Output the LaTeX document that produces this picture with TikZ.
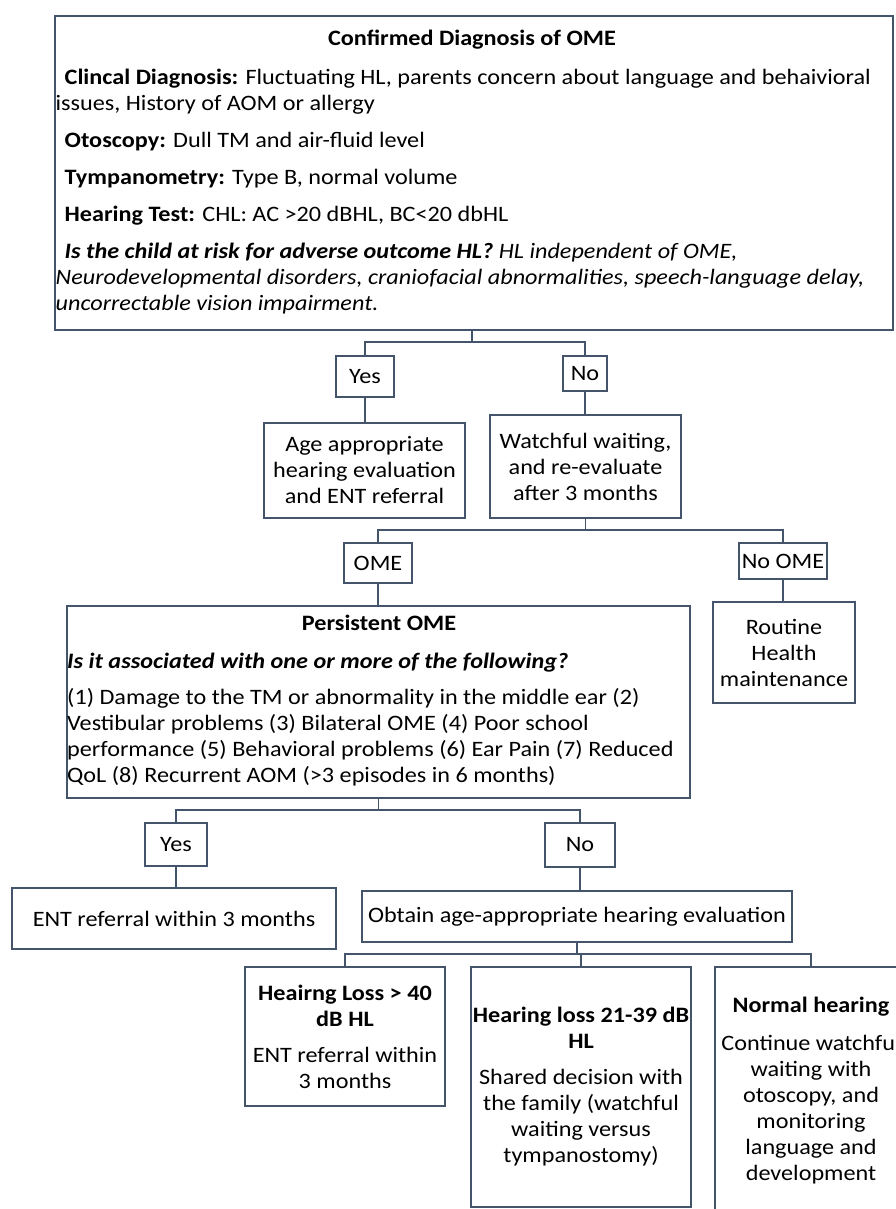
\documentclass[tikz,border=0pt]{standalone}
\usepackage{fontspec}
\setmainfont{Carlito}[FakeStretch=1.1]
\definecolor{edgecol}{HTML}{44546A}
\begin{document}
\begin{tikzpicture}[x=1pt,y=1pt,
  box/.style={draw=edgecol, line width=1.5pt, inner sep=0pt, align=center,
              font=\fontsize{22}{26}\selectfont, text=black},
  txt/.style={inner sep=0pt, align=left, anchor=north west,
              font=\fontsize{22}{26}\selectfont, text=black},
  conn/.style={draw=edgecol, line width=1.5pt}]
\useasboundingbox (0,0) rectangle (896,-1209);
\clip (0,0) rectangle (896,-1209);

% ---- top: confirmed diagnosis ----
\node[box, minimum width=838pt, minimum height=314pt] (top) at (474,-173) {};
\node[inner sep=0pt, font=\fontsize{22}{26}\selectfont\bfseries] (toptitle) at (472,-40) {Confirmed Diagnosis of OME};
\node[txt] (toptext) at (55.5,-69) {%
\hspace*{9pt}\textbf{Clincal Diagnosis:} Fluctuating HL, parents concern about language and behaivioral\\
issues, History of AOM or allergy\\[11pt]
\hspace*{9pt}\textbf{Otoscopy:} Dull TM and air-fluid level\\[11pt]
\hspace*{9pt}\textbf{Tympanometry:} Type B, normal volume\\[11pt]
\hspace*{9pt}\textbf{Hearing Test:} CHL: AC >20 dBHL, BC<20 dbHL\\[11pt]
\hspace*{9pt}\textbf{\textit{Is the child at risk for adverse outcome HL?}} \textit{HL independent of OME,}\\
\textit{Neurodevelopmental disorders, craniofacial abnormalities, speech-language delay,}\\
\textit{uncorrectable vision impairment.}};

% ---- first decision ----
\node[box, minimum width=58pt, minimum height=41pt] (yes1) at (365,-376.5) {Yes};
\node[box, minimum width=44pt, minimum height=35pt] (no1) at (585,-373.5) {No};
\node[box, minimum width=201pt, minimum height=95pt] (age) at (364.5,-470.5)
  {Age appropriate\\hearing evaluation\\and ENT referral};
\node[box, minimum width=191pt, minimum height=103pt] (watch) at (585.5,-466.5)
  {Watchful waiting,\\and re-evaluate\\after 3 months};

% ---- re-evaluation ----
\node[box, minimum width=68pt, minimum height=40pt] (ome) at (378,-563) {OME};
\node[box, minimum width=88pt, minimum height=36pt] (noome) at (783,-561) {No OME};
\node[box, minimum width=142pt, minimum height=101pt] (routine) at (784,-652.5)
  {Routine\\Health\\maintenance};

% ---- persistent OME ----
\node[box, minimum width=623pt, minimum height=192pt] (persist) at (378.5,-702) {};
\node[inner sep=0pt, font=\fontsize{22}{26}\selectfont\bfseries] (persisttitle) at (379,-623) {Persistent OME};
\node[txt] (persisttext) at (67,-653) {%
\textbf{\textit{Is it associated with one or more of the following?}}\\[10pt]
(1) Damage to the TM or abnormality in the middle ear (2)\\
Vestibular problems (3) Bilateral OME (4) Poor school\\
performance (5) Behavioral problems (6) Ear Pain (7) Reduced\\
QoL (8) Recurrent AOM (>3 episodes in 6 months)};

% ---- second decision ----
\node[box, minimum width=62pt, minimum height=43pt] (yes2) at (176,-844.5) {Yes};
\node[box, minimum width=70pt, minimum height=44pt] (no2) at (580,-845) {No};
\node[box, minimum width=324pt, minimum height=61pt] (ent) at (174,-918.5) {ENT referral within 3 months};
\node[box, minimum width=430pt, minimum height=51pt] (obtain) at (577,-916.5) {Obtain age-appropriate hearing evaluation};

% ---- hearing outcomes ----
\node[box, minimum width=200pt, minimum height=139pt] (hl40) at (345,-1036.5)
  {\textbf{Heairng Loss > 40}\\\textbf{dB HL}\\[10pt]ENT referral within\\3 months};
\node[box, minimum width=220pt, minimum height=240pt] (hl21) at (581,-1087)
  {\textbf{Hearing loss 21-39 dB}\\\textbf{HL}\\[10pt]Shared decision with\\the family (watchful\\waiting versus\\tympanostomy)};
\node[box, minimum width=192pt, minimum height=248pt] (normal) at (811,-1091)
  {\textbf{Normal hearing}\\[12pt]Continue watchful\\waiting with\\otoscopy, and\\monitoring\\language and\\development};

% ---- connectors ----
\coordinate (f1) at (472,-342);
\coordinate (f2) at (586,-530);
\coordinate (f3) at (379,-810);
\coordinate (f4) at (577,-954);

\draw[conn] (top.south -| f1) -- (f1);
\draw[conn] (yes1.north) |- (f1) -| (no1.north);
\draw[conn] (yes1.south) -- (yes1.south |- age.north);
\draw[conn] (no1.south) -- (no1.south |- watch.north);

\draw[conn] (watch.south) -- (watch.south |- f2);
\draw[conn] (ome.north) |- (f2) -| (noome.north);
\draw[conn] (ome.south) -- (ome.south |- persist.north);
\draw[conn] (noome.south) -- (noome.south |- routine.north);

\draw[conn] (persist.south) -- (persist.south |- f3);
\draw[conn] (yes2.north) |- (f3) -| (no2.north);
\draw[conn] (yes2.south) -- (yes2.south |- ent.north);
\draw[conn] (no2.south) -- (no2.south |- obtain.north);

\draw[conn] (obtain.south) -- (obtain.south |- f4);
\draw[conn] (hl40.north) |- (f4) -| (normal.north);
\draw[conn] (hl21.north) -- (hl21.north |- f4);
\end{tikzpicture}
\end{document}
